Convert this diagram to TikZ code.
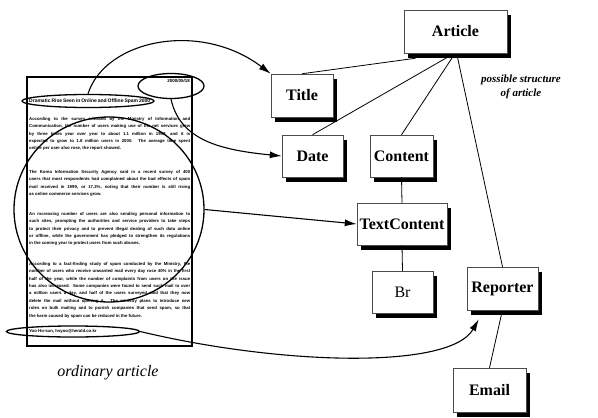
\documentclass[tikz,border=0pt]{standalone}
\usepackage{fontspec}
\setmainfont{Liberation Serif}
\newfontfamily\artfont{Liberation Sans}
\usetikzlibrary{shapes.geometric,arrows.meta,calc,backgrounds}
\newcommand{\jline}[1]{\makebox[161pt][s]{#1}}
\begin{document}
\begin{tikzpicture}[x=1pt,y=-1pt,
  box/.style={draw=black!70, line width=0.5pt, fill=white, inner sep=0pt,
    font=\fontsize{16}{18}\selectfont\bfseries},
  shade/.style={fill=black},
  link/.style={line width=0.8pt},
  ring/.style={draw, ellipse, line width=1.3pt, inner sep=0pt},
  arr/.style={line width=1.1pt, -{Latex[length=12pt,width=7pt]}},
  artbody/.style={anchor=north west, inner sep=0pt, align=left,
    font=\artfont\bfseries\fontsize{4.3}{7.4}\selectfont},
  caption/.style={font=\fontsize{16}{18}\selectfont\itshape}]
\useasboundingbox (0,0) rectangle (598,418);

% ordinary article
\node[draw, line width=1.2pt, minimum width=165pt, minimum height=269pt, inner sep=0pt] (doc) at (109.5,211.5) {};
\node[anchor=east, inner sep=0pt, font=\artfont\bfseries\fontsize{4.5}{5}\selectfont] (dtext) at (190,81) {2000/05/18};
\node[anchor=west, inner sep=0pt, font=\artfont\bfseries\fontsize{5}{6}\selectfont] (ttext) at (29,101) {\makebox[121pt][s]{Dramatic Rise Seen in Online and Offline Spam 2000}};
\node[artbody] (p1) at (29,117) {\jline{According to the survey released by the Ministry of Information and}\\
\jline{Communication, the number of users making use of the net services grew}\\
\jline{by three times year over year to about 1.1 million in 1999, and it is}\\
\jline{expected to grow to 1.8 million users in 2000. The average time spent}\\
online per user also rose, the report showed.};
\node[artbody] (p2) at (29,170) {\jline{The Korea Information Security Agency said in a recent survey of 400}\\
\jline{users that most respondents had complained about the bad effects of spam}\\
\jline{mail received in 1999, or 17.2\%, noting that their number is still rising}\\
as online commerce services grow.};
\node[artbody] (p3) at (29,212) {\jline{An increasing number of users are also sending personal information to}\\
\jline{such sites, prompting the authorities and service providers to take steps}\\
\jline{to protect their privacy and to prevent illegal dealing of such data online}\\
\jline{or offline, while the government has pledged to strengthen its regulations}\\
in the coming year to protect users from such abuses.};
\node[artbody] (p4) at (29,262) {\jline{According to a fact-finding study of spam conducted by the Ministry, the}\\
\jline{number of users who receive unwanted mail every day rose 40\% in the first}\\
\jline{half of the year, while the number of complaints from users on the issue}\\
\jline{has also increased. Some companies were found to send such mail to over}\\
\jline{a million users a day, and half of the users surveyed said that they now}\\
\jline{delete the mail without opening it. The ministry plans to introduce new}\\
\jline{rules on bulk mailing and to punish companies that send spam, so that}\\
the harm caused by spam can be reduced in the future.};
\node[anchor=west, inner sep=0pt, font=\artfont\bfseries\fontsize{4.3}{5}\selectfont] (rtext) at (29,331) {Yoo Ho-sun, hsyoo@herald.co.kr};

% marks on the article
\node[ring, minimum width=66pt, minimum height=25pt] (dateEll) at (171,86) {};
\node[ring, minimum width=132pt, minimum height=13pt] (titleEll) at (88,101) {};
\node[ring, minimum width=190pt, minimum height=185pt] (bigEll) at (109,209.5) {};
\node[ring, minimum width=133pt, minimum height=11pt] (repEll) at (73,331.5) {};

\node[caption] (cap1) at (108,373) {ordinary article};

% structure
\node[box, minimum width=103pt, minimum height=43pt] (Article) at (455.5,31.5) {Article};
\node[box, minimum width=62pt, minimum height=43pt] (Title) at (302,95.5) {Title};
\node[box, minimum width=61pt, minimum height=42pt] (Date) at (312.5,156) {Date};
\node[box, minimum width=63pt, minimum height=42pt] (Content) at (401.5,156) {Content};
\node[box, minimum width=90pt, minimum height=42pt] (TextContent) at (402,224) {TextContent};
\node[box, minimum width=61pt, minimum height=42pt, font=\fontsize{16}{18}\selectfont] (Br) at (402.5,292) {Br};
\node[box, minimum width=71pt, minimum height=43pt] (Reporter) at (502.5,288.5) {Reporter};
\node[box, minimum width=73pt, minimum height=44pt] (Email) at (489.5,390) {Email};

\begin{scope}[on background layer]
\foreach \n in {Article,Title,Date,Content,TextContent,Br,Reporter,Email}
  \fill[shade] ($(\n.north west)+(4,5)$) rectangle ($(\n.south east)+(4,5)$);
\end{scope}

\node[align=center, font=\fontsize{11}{14}\selectfont\bfseries\itshape] (cap2) at (521,87) {possible structure\\ of article};

\draw[link] ($(Article.south)+(-40,5)$) -- (Title.north);
\draw[link] ($(Article.south)+(-8,4)$) -- (Date.north);
\draw[link] ($(Article.south)+(-3,4)$) -- (Content.north);
\draw[link] ($(Article.south)+(2,4)$) -- (Reporter.north);
\draw[link] (Content.south) -- (TextContent.north);
\draw[link] (TextContent.south) -- (Br.north);
\draw[link] ($(Reporter.south)+(-1,4)$) -- (Email.north);

% arrows
\draw[arr] (titleEll.north) .. controls (105,40) and (200,20) .. (Title.north west);
\draw[arr] (dateEll.south) .. controls (180,140) and (220,150) .. (Date.west);
\draw[arr] (bigEll.east) -- (TextContent.west);
\draw[arr] (repEll.east) .. controls (280,365) and (450,370) .. ($(Reporter.south west)+(12,9)$);
\end{tikzpicture}
\end{document}
